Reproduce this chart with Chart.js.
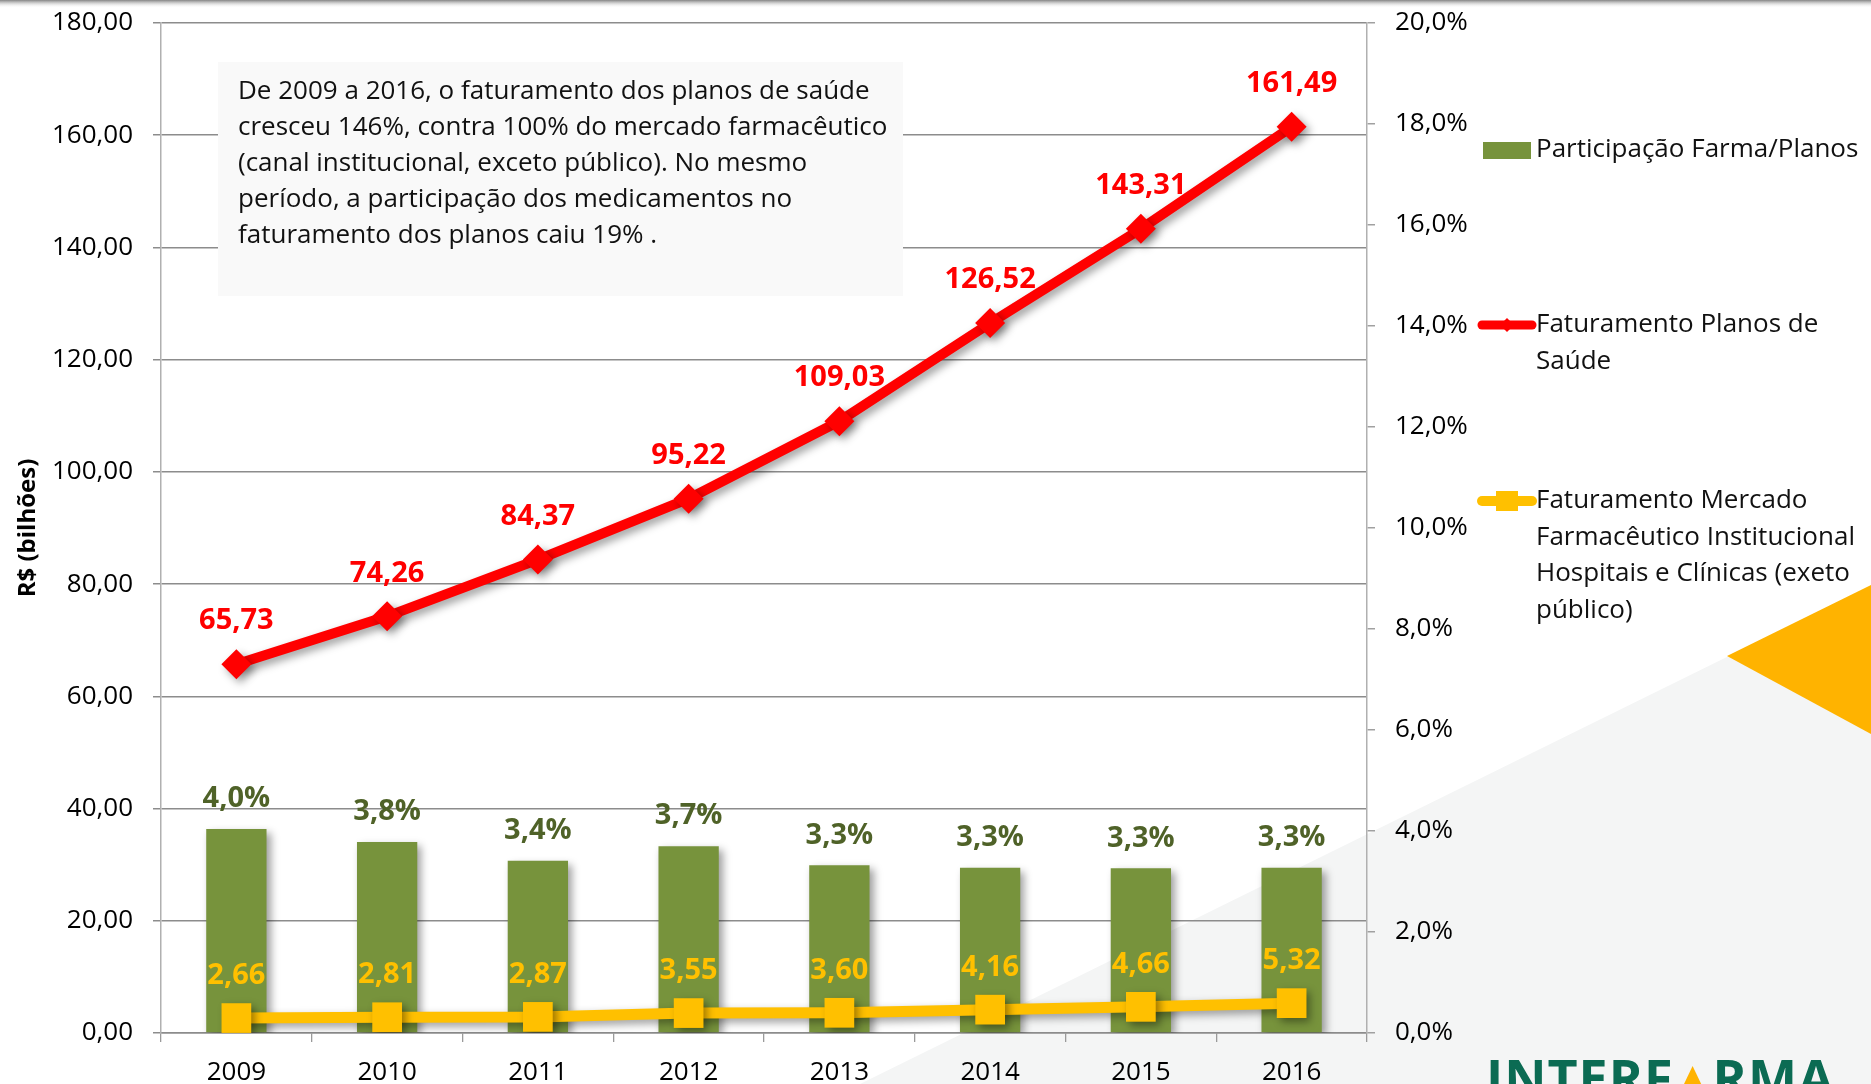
<!DOCTYPE html>
<html>
<head>
<meta charset="utf-8">
<script src="https://cdn.jsdelivr.net/npm/chart.js@4.4.1/dist/chart.umd.min.js"></script>
<style>
  html, body { margin: 0; padding: 0; background: #ffffff; }
  canvas { display: block; }
</style>
</head>
<body>
<canvas id="chart_faturamento" width="1871" height="1084"></canvas>
<script>
var years = ['2009', '2010', '2011', '2012', '2013', '2014', '2015', '2016'];
var faturamentoPlanos = [65.73, 74.26, 84.37, 95.22, 109.03, 126.52, 143.31, 161.49];
var faturamentoMercado = [2.66, 2.81, 2.87, 3.55, 3.60, 4.16, 4.66, 5.32];
var participacaoFarma = [4.04, 3.78, 3.41, 3.70, 3.32, 3.27, 3.26, 3.27];

var labelPlanos = 'Faturamento Planos de Saúde';
var labelMercado = 'Faturamento Mercado Farmacêutico Institucional Hospitais e Clínicas (exeto público)';
var labelParticipacao = 'Participação Farma/Planos';

var legendPlanos = ['Faturamento Planos de', 'Saúde'];
var legendMercado = ['Faturamento Mercado', 'Farmacêutico Institucional', 'Hospitais e Clínicas (exeto', 'público)'];
var legendParticipacao = ['Participação Farma/Planos'];

var noteLines = [
    'De 2009 a 2016, o faturamento dos planos de saúde',
    'cresceu 146%, contra 100% do mercado farmacêutico',
    '(canal institucional, exceto público). No mesmo',
    'período, a participação dos medicamentos no',
    'faturamento dos planos caiu 19% .'
];

var FONT = "'Open Sans', 'DejaVu Sans', sans-serif";

function br(v, d) {
    return v.toFixed(d).replace('.', ',');
}

var chart_faturamento = new Chart(document.getElementById('chart_faturamento'), {
    type: 'bar',
    data: {
        labels: years,
        datasets: [
            {
                type: 'line',
                label: labelMercado,
                legendText: legendMercado,
                data: faturamentoMercado,
                yAxisID: 'y',
                order: 0,
                borderColor: '#FFC000',
                backgroundColor: '#FFC000',
                borderWidth: 11,
                tension: 0,
                pointStyle: 'rect',
                pointRadius: 21,
                pointBorderWidth: 0,
                labelColor: '#FFC000',
                labelOffset: 42,
                labelFmt: function(v) { return br(v, 2); }
            },
            {
                type: 'line',
                label: labelPlanos,
                legendText: legendPlanos,
                data: faturamentoPlanos,
                yAxisID: 'y',
                order: 1,
                borderColor: '#FF0000',
                backgroundColor: '#FF0000',
                borderWidth: 10,
                tension: 0,
                pointStyle: 'rectRot',
                pointRadius: 15,
                pointBorderWidth: 0,
                labelColor: '#FF0000',
                labelOffset: 43,
                labelFmt: function(v) { return br(v, 2); }
            },
            {
                type: 'bar',
                label: labelParticipacao,
                legendText: legendParticipacao,
                data: participacaoFarma,
                yAxisID: 'y1',
                order: 2,
                backgroundColor: '#77933C',
                barPercentage: 0.4,
                categoryPercentage: 1.0,
                labelColor: '#4F6228',
                labelOffset: 30,
                labelFmt: function(v) { return br(v, 1) + '%'; }
            }
        ]
    },
    options: {
        animation: false,
        responsive: false,
        layout: { padding: { top: 23, right: 0, bottom: 0, left: 0 } },
        plugins: {
            legend: { display: false },
            tooltip: { enabled: false }
        },
        scales: {
            x: {
                offset: true,
                grid: { offset: true, drawOnChartArea: false, drawTicks: true, tickLength: 9, color: '#9a9a9a', lineWidth: 1.3 },
                border: { color: '#8c8c8c', width: 1.5 },
                ticks: { color: '#000', padding: 15, font: { family: FONT, size: 26 } },
                afterFit: function(scale) { scale.height = 51; }
            },
            y: {
                position: 'left',
                min: 0,
                max: 180,
                ticks: {
                    stepSize: 20,
                    color: '#000',
                    padding: 20,
                    font: { family: FONT, size: 26 },
                    callback: function(value) { return br(value, 2); }
                },
                grid: { color: '#8c8c8c', lineWidth: 1.5, tickLength: 8 },
                border: { color: '#b0b0b0', width: 1.5 },
                title: {
                    display: true,
                    text: 'R$ (bilhões)',
                    color: '#000',
                    padding: { top: 14, bottom: 0 },
                    font: { family: FONT, size: 24, weight: 'bold' }
                },
                afterFit: function(scale) {
                    scale.width = 161;
                    scale.paddingTop = 10;
                    scale.paddingBottom = 10;
                }
            },
            y1: {
                position: 'right',
                min: 0,
                max: 20,
                ticks: {
                    stepSize: 2,
                    color: '#000',
                    padding: 20,
                    font: { family: FONT, size: 26 },
                    callback: function(value) { return br(value, 1) + '%'; }
                },
                grid: { drawOnChartArea: false, color: '#a0a0a0', lineWidth: 1.5, tickLength: 8 },
                border: { color: '#b0b0b0', width: 1.5 },
                afterFit: function(scale) {
                    scale.width = 504;
                    scale.paddingTop = 10;
                    scale.paddingBottom = 10;
                }
            }
        }
    },
    plugins: [
        {
            id: 'slideBackground',
            beforeDraw: function(chart) {
                var ctx = chart.ctx;
                var w = chart.width, h = chart.height;
                ctx.save();
                ctx.fillStyle = '#ffffff';
                ctx.fillRect(0, 0, w, h);
                // light grey diagonal panel
                ctx.fillStyle = '#f4f5f5';
                ctx.beginPath();
                ctx.moveTo(860, h);
                ctx.lineTo(1735, 653);
                ctx.lineTo(w, 587);
                ctx.lineTo(w, h);
                ctx.closePath();
                ctx.fill();
                // orange wedge
                ctx.fillStyle = '#FFB300';
                ctx.beginPath();
                ctx.moveTo(1727, 656);
                ctx.lineTo(w, 585);
                ctx.lineTo(w, 734);
                ctx.closePath();
                ctx.fill();
                // top shadow
                var g = ctx.createLinearGradient(0, 0, 0, 8);
                g.addColorStop(0, 'rgba(90,90,90,0.75)');
                g.addColorStop(1, 'rgba(255,255,255,0)');
                ctx.fillStyle = g;
                ctx.fillRect(0, 0, w, 8);
                // logo, cut by the bottom edge
                ctx.font = 'bold 52px ' + FONT;
                ctx.textBaseline = 'top';
                ctx.fillStyle = '#0B6B53';
                var letters = ['I', 'N', 'T', 'E', 'R', 'F', '^', 'R', 'M', 'A'];
                var x = 1486;
                for (var i = 0; i < letters.length; i++) {
                    if (letters[i] === '^') {
                        ctx.save();
                        ctx.fillStyle = '#FFB300';
                        ctx.beginPath();
                        ctx.moveTo(x + 19, 1066);
                        ctx.lineTo(x + 40, 1110);
                        ctx.lineTo(x - 2, 1110);
                        ctx.closePath();
                        ctx.fill();
                        ctx.restore();
                        x += 38 + 1;
                    } else {
                        ctx.fillText(letters[i], x, 1056);
                        x += ctx.measureText(letters[i]).width + 1;
                    }
                }
                ctx.restore();
            }
        },
        {
            id: 'noteBox',
            beforeDatasetsDraw: function(chart) {
                var ctx = chart.ctx;
                ctx.save();
                ctx.fillStyle = '#f9f9f9';
                ctx.fillRect(218, 62, 685, 234);
                ctx.fillStyle = '#111';
                ctx.font = '26px ' + FONT;
                ctx.textBaseline = 'middle';
                ctx.textAlign = 'left';
                for (var i = 0; i < noteLines.length; i++) {
                    ctx.fillText(noteLines[i], 238, 91.5 + i * 36);
                }
                ctx.restore();
            }
        },
        {
            id: 'markShadow',
            beforeDatasetDraw: function(chart) {
                var ctx = chart.ctx;
                ctx.save();
                ctx.shadowColor = 'rgba(0,0,0,0.38)';
                ctx.shadowBlur = 8;
                ctx.shadowOffsetX = 4;
                ctx.shadowOffsetY = 4;
            },
            afterDatasetDraw: function(chart) {
                chart.ctx.restore();
            }
        },
        {
            id: 'valueLabels',
            afterDatasetsDraw: function(chart) {
                var ctx = chart.ctx;
                ctx.save();
                ctx.font = 'bold 29px ' + FONT;
                ctx.textAlign = 'center';
                ctx.textBaseline = 'middle';
                chart.data.datasets.forEach(function(ds, di) {
                    var meta = chart.getDatasetMeta(di);
                    ctx.fillStyle = ds.labelColor;
                    meta.data.forEach(function(el, i) {
                        ctx.fillText(ds.labelFmt(ds.data[i]), el.x, el.y - ds.labelOffset);
                    });
                });
                ctx.restore();
            }
        },
        {
            id: 'sideLegend',
            afterDraw: function(chart) {
                var ctx = chart.ctx;
                var ds = chart.data.datasets;
                var x0 = chart.chartArea.right + 113;
                var tx = x0 + 56;
                var items = [
                    { d: ds[2], y: 150 },
                    { d: ds[1], y: 325 },
                    { d: ds[0], y: 501 }
                ];
                ctx.save();
                ctx.font = '26px ' + FONT;
                ctx.textBaseline = 'middle';
                ctx.textAlign = 'left';
                items.forEach(function(it) {
                    var d = it.d;
                    if (d.type === 'bar') {
                        ctx.fillStyle = d.backgroundColor;
                        ctx.fillRect(x0 + 3, it.y - 8, 48, 17);
                    } else {
                        ctx.strokeStyle = d.borderColor;
                        ctx.lineWidth = d.borderWidth - 1;
                        ctx.lineCap = 'round';
                        ctx.beginPath();
                        ctx.moveTo(x0 + 2, it.y);
                        ctx.lineTo(x0 + 52, it.y);
                        ctx.stroke();
                        ctx.fillStyle = d.backgroundColor;
                        if (d.pointStyle === 'rectRot') {
                            ctx.beginPath();
                            ctx.moveTo(x0 + 27, it.y - 7);
                            ctx.lineTo(x0 + 34, it.y);
                            ctx.lineTo(x0 + 27, it.y + 7);
                            ctx.lineTo(x0 + 20, it.y);
                            ctx.closePath();
                            ctx.fill();
                        } else {
                            ctx.fillRect(x0 + 16, it.y - 10, 22, 20);
                        }
                    }
                    ctx.fillStyle = '#111';
                    d.legendText.forEach(function(line, k) {
                        ctx.fillText(line, tx, it.y + k * 36.5);
                    });
                });
                ctx.restore();
            }
        }
    ]
});
</script>
</body>
</html>
